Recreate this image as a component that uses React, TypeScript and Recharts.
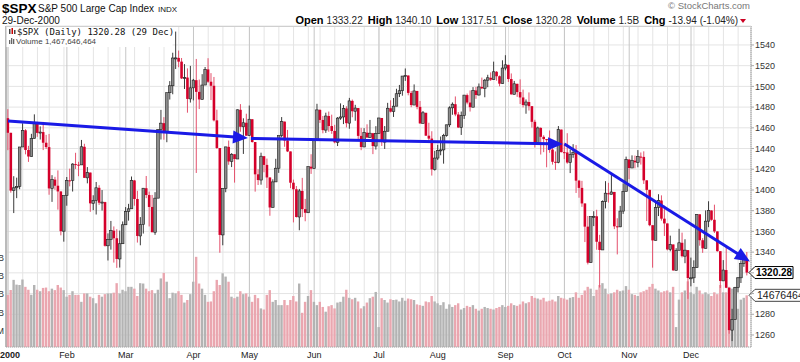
import React from "react";
import {
  ComposedChart,
  Bar,
  Cell,
  XAxis,
  YAxis,
  CartesianGrid,
  ReferenceLine,
} from "recharts";

const FONT = "'Liberation Sans', Arial, sans-serif";
const MONO = "'DejaVu Sans Mono', monospace";

// market holidays of 2000 (weekdays without trading)
const HOLIDAYS = [
  "2000-01-17", "2000-02-21", "2000-04-21", "2000-05-29",
  "2000-07-04", "2000-09-04", "2000-11-23", "2000-12-25",
];
const MONTH_LABELS = ["2000", "Feb", "Mar", "Apr", "May", "Jun", "Jul", "Aug", "Sep", "Oct", "Nov", "Dec"];
const PRICE_TICKS = [1260, 1280, 1300, 1320, 1340, 1360, 1380, 1400, 1420, 1440, 1460, 1480, 1500, 1520, 1540];
// labels hidden behind the last-value tags
const HIDDEN_PRICE_LABELS = [1300, 1320];
const VOLUME_TICKS = [0.5, 1, 1.5, 2, 2.5];

// daily OHLC, Jan..Dec 2000
const opens = [
  1469.3, 1455.2, 1399.4, 1402.1, 1403.5, 1441.5, 1457.6, 1438.6, 1432.3, 1449.7, 1465.2, 1455.1, 1455.9, 1445.6, 1441.4, 1401.5, 1410.0, 1404.1, 1398.6, 1360.2,
  1394.5, 1409.3, 1409.1, 1425.0, 1424.4, 1424.2, 1441.7, 1411.7, 1416.8, 1387.1, 1389.9, 1402.1, 1387.7, 1388.3, 1346.1, 1352.2, 1360.7, 1353.4, 1333.4, 1348.1,
  1366.4, 1379.2, 1381.8, 1409.2, 1391.3, 1355.6, 1366.7, 1401.7, 1395.1, 1383.6, 1359.2, 1392.1, 1458.5, 1464.5, 1456.6, 1493.9, 1500.6, 1527.4, 1527.5, 1523.9, 1507.7, 1508.5, 1487.9,
  1498.6, 1506.0, 1494.7, 1487.4, 1501.3, 1516.4, 1504.5, 1500.6, 1467.2, 1440.5, 1356.6, 1401.4, 1441.6, 1427.5, 1434.5, 1429.9, 1477.4, 1461.0, 1464.9,
  1452.4, 1468.3, 1446.3, 1415.1, 1409.6, 1432.6, 1424.2, 1412.1, 1383.1, 1407.8, 1421.0, 1452.4, 1466.0, 1447.8, 1437.2, 1407.0, 1400.7, 1373.9, 1399.1, 1381.5, 1378.0, 1422.5,
  1420.6, 1448.8, 1477.3, 1467.6, 1457.8, 1471.4, 1461.7, 1457.0, 1446.0, 1469.4, 1470.5, 1478.7, 1464.5, 1486.0, 1476.0, 1479.1, 1452.2, 1441.5, 1455.3, 1450.6, 1454.8, 1442.4,
  1454.6, 1469.5, 1446.2, 1456.7, 1478.9, 1475.6, 1480.9, 1492.9, 1495.8, 1510.0, 1510.5, 1493.7, 1482.0, 1495.6, 1480.2, 1464.3, 1474.5, 1452.4, 1449.6, 1419.9,
  1430.8, 1438.1, 1438.7, 1452.6, 1462.9, 1479.3, 1482.8, 1472.9, 1460.3, 1471.8, 1491.6, 1484.4, 1479.9, 1496.1, 1491.7, 1499.5, 1498.1, 1506.0, 1508.3, 1506.5, 1514.1, 1509.8, 1502.6,
  1517.7, 1520.8, 1507.1, 1492.3, 1502.5, 1494.5, 1489.3, 1482.0, 1484.9, 1480.9, 1465.8, 1444.5, 1459.9, 1451.3, 1449.1, 1448.7, 1439.0, 1427.2, 1426.6, 1458.3,
  1436.5, 1436.2, 1426.5, 1434.3, 1436.3, 1409.0, 1402.0, 1387.0, 1364.6, 1329.8, 1374.2, 1374.6, 1350.0, 1342.1, 1388.8, 1396.9, 1395.8, 1398.1, 1364.9, 1364.4, 1379.6, 1398.7,
  1429.4, 1421.2, 1428.3, 1426.7, 1432.2, 1431.9, 1409.3, 1400.1, 1366.0, 1351.3, 1383.0, 1389.8, 1372.3, 1367.7, 1342.6, 1347.4, 1322.4, 1341.8, 1349.0, 1336.1, 1341.9,
  1315.0, 1315.2, 1325.0, 1376.5, 1351.5, 1343.6, 1369.9, 1380.2, 1371.2, 1360.0, 1340.9, 1312.2, 1322.7, 1305.6, 1264.7, 1274.9, 1306.0, 1315.2, 1328.9, 1333.22,
];
const highs = [
  1478.0, 1455.2, 1413.3, 1411.9, 1441.5, 1464.4, 1458.7, 1442.6, 1454.2, 1473.0, 1465.7, 1461.4, 1465.7, 1453.2, 1454.1, 1414.3, 1412.7, 1418.9, 1398.6, 1394.5,
  1412.5, 1420.6, 1425.8, 1435.9, 1427.2, 1448.3, 1444.6, 1422.1, 1416.8, 1394.9, 1407.7, 1404.6, 1399.9, 1388.6, 1358.1, 1370.1, 1364.8, 1362.1, 1360.8, 1369.6,
  1383.5, 1386.6, 1413.0, 1409.7, 1399.2, 1373.8, 1401.8, 1413.5, 1398.4, 1395.2, 1397.9, 1458.5, 1477.3, 1470.3, 1493.9, 1505.1, 1532.5, 1552.9, 1534.6, 1527.4, 1521.5, 1517.4, 1519.8,
  1507.2, 1526.5, 1506.6, 1511.8, 1518.7, 1527.2, 1512.8, 1509.1, 1477.5, 1440.5, 1401.5, 1441.6, 1447.7, 1435.5, 1434.5, 1477.7, 1482.9, 1469.2, 1473.6,
  1481.5, 1468.3, 1446.3, 1420.0, 1436.0, 1432.6, 1430.3, 1412.1, 1410.3, 1430.1, 1452.4, 1470.4, 1466.0, 1458.0, 1437.2, 1410.0, 1403.8, 1401.0, 1411.7, 1391.4, 1422.5, 1434.5,
  1448.8, 1483.2, 1477.8, 1471.4, 1474.6, 1475.7, 1472.7, 1462.9, 1470.4, 1483.6, 1482.0, 1480.8, 1488.9, 1487.3, 1482.2, 1479.1, 1459.9, 1459.7, 1463.4, 1467.6, 1455.1, 1461.6,
  1469.6, 1469.5, 1461.7, 1484.1, 1486.6, 1488.8, 1497.7, 1501.4, 1509.9, 1517.3, 1510.5, 1495.6, 1501.9, 1495.6, 1485.9, 1476.2, 1474.5, 1464.9, 1456.7, 1437.7,
  1443.5, 1451.6, 1454.2, 1462.9, 1480.8, 1484.5, 1490.3, 1475.2, 1475.7, 1491.6, 1493.1, 1496.1, 1499.3, 1499.5, 1502.8, 1508.5, 1507.2, 1511.2, 1513.5, 1523.9, 1514.8, 1510.5, 1525.2,
  1530.1, 1520.8, 1512.5, 1505.3, 1502.5, 1506.8, 1496.9, 1487.4, 1494.2, 1480.9, 1467.8, 1461.2, 1460.5, 1452.8, 1449.1, 1457.4, 1448.0, 1437.2, 1461.7, 1458.3,
  1445.6, 1454.8, 1439.0, 1444.2, 1443.3, 1409.7, 1408.8, 1387.0, 1374.9, 1374.2, 1379.5, 1380.9, 1356.7, 1389.9, 1408.5, 1406.9, 1415.6, 1398.1, 1372.7, 1384.6, 1406.4, 1432.2,
  1429.6, 1433.4, 1433.2, 1438.5, 1436.2, 1437.3, 1409.3, 1400.1, 1366.0, 1390.1, 1395.9, 1394.8, 1384.9, 1367.7, 1355.9, 1347.4, 1343.8, 1362.5, 1358.8, 1352.4, 1341.9,
  1334.7, 1332.1, 1376.6, 1376.5, 1353.5, 1380.3, 1389.1, 1380.3, 1385.8, 1360.0, 1340.9, 1332.3, 1346.4, 1305.6, 1285.3, 1306.0, 1315.9, 1332.0, 1335.9, 1340.10,
];
const lows = [
  1438.4, 1397.4, 1377.7, 1392.1, 1400.7, 1441.5, 1434.4, 1427.1, 1432.3, 1449.7, 1451.3, 1448.7, 1438.5, 1439.6, 1395.4, 1388.5, 1400.2, 1381.0, 1356.2, 1350.1,
  1384.8, 1403.5, 1398.5, 1420.3, 1413.3, 1424.2, 1411.7, 1406.4, 1378.9, 1380.5, 1376.3, 1385.6, 1380.1, 1345.3, 1331.9, 1342.4, 1329.9, 1324.8, 1325.1, 1348.1,
  1366.4, 1370.4, 1381.8, 1384.8, 1349.2, 1346.6, 1357.9, 1392.1, 1364.8, 1359.2, 1356.7, 1392.1, 1448.7, 1448.5, 1446.1, 1487.3, 1492.4, 1516.8, 1518.5, 1507.1, 1497.5, 1474.6, 1484.4,
  1486.5, 1416.4, 1478.1, 1487.4, 1501.3, 1503.4, 1486.8, 1466.2, 1439.6, 1339.4, 1346.6, 1397.8, 1424.3, 1422.1, 1407.1, 1429.9, 1456.2, 1434.8, 1452.4,
  1452.4, 1445.7, 1398.4, 1404.8, 1405.1, 1417.1, 1401.9, 1375.1, 1383.1, 1407.8, 1416.5, 1450.8, 1441.7, 1436.6, 1401.7, 1368.7, 1373.4, 1361.1, 1373.9, 1369.8, 1378.0, 1415.5,
  1420.6, 1448.8, 1464.7, 1454.7, 1455.1, 1456.2, 1454.2, 1445.0, 1442.4, 1467.7, 1463.6, 1460.4, 1459.1, 1470.2, 1466.8, 1448.0, 1438.4, 1441.5, 1450.6, 1450.6, 1434.6, 1439.0,
  1454.6, 1442.5, 1439.6, 1456.7, 1474.8, 1470.5, 1480.9, 1489.7, 1491.0, 1505.3, 1491.4, 1479.9, 1482.0, 1477.9, 1463.8, 1464.3, 1452.4, 1445.3, 1413.9, 1418.7,
  1428.9, 1433.5, 1425.4, 1451.5, 1460.7, 1472.6, 1471.2, 1459.9, 1453.1, 1468.6, 1482.7, 1475.7, 1479.9, 1488.0, 1491.1, 1497.4, 1489.5, 1499.2, 1505.2, 1506.5, 1505.5, 1500.1, 1502.6,
  1515.5, 1504.3, 1492.1, 1492.3, 1489.9, 1483.0, 1479.7, 1473.6, 1476.7, 1460.2, 1441.0, 1444.5, 1434.2, 1436.5, 1421.9, 1435.9, 1424.5, 1419.4, 1425.8, 1436.3,
  1429.8, 1425.3, 1416.3, 1431.0, 1397.1, 1392.5, 1383.7, 1349.7, 1328.1, 1329.8, 1365.1, 1342.3, 1305.8, 1342.1, 1382.2, 1387.8, 1395.8, 1362.2, 1337.8, 1364.1, 1376.9, 1398.7,
  1410.5, 1421.2, 1420.9, 1421.9, 1424.5, 1405.8, 1370.0, 1365.0, 1325.0, 1351.3, 1374.8, 1370.4, 1355.6, 1341.7, 1340.8, 1321.9, 1322.4, 1341.8, 1334.9, 1329.3, 1294.9,
  1307.0, 1310.2, 1325.0, 1346.2, 1339.3, 1343.6, 1364.1, 1370.3, 1358.5, 1340.5, 1305.4, 1312.2, 1305.2, 1261.2, 1254.1, 1274.9, 1301.1, 1310.2, 1325.8, 1317.51,
];
const closes = [
  1455.2, 1399.4, 1402.1, 1403.5, 1441.5, 1457.6, 1438.6, 1432.3, 1449.7, 1465.2, 1455.1, 1455.9, 1445.6, 1441.4, 1401.5, 1410.0, 1404.1, 1398.6, 1360.2, 1394.5,
  1409.3, 1409.1, 1425.0, 1424.4, 1424.2, 1441.7, 1411.7, 1416.8, 1387.1, 1389.9, 1402.1, 1387.7, 1388.3, 1346.1, 1352.2, 1360.7, 1353.4, 1333.4, 1348.1, 1366.4,
  1379.2, 1381.8, 1409.2, 1391.3, 1355.6, 1366.7, 1401.7, 1395.1, 1383.6, 1359.2, 1392.1, 1458.5, 1464.5, 1456.6, 1493.9, 1500.6, 1527.4, 1527.5, 1523.9, 1507.7, 1508.5, 1487.9, 1498.6,
  1506.0, 1494.7, 1487.4, 1501.3, 1516.4, 1504.5, 1500.6, 1467.2, 1440.5, 1356.6, 1401.4, 1441.6, 1427.5, 1434.5, 1429.9, 1477.4, 1461.0, 1464.9, 1452.4,
  1468.3, 1446.3, 1415.1, 1409.6, 1432.6, 1424.2, 1412.1, 1383.1, 1407.8, 1421.0, 1452.4, 1466.0, 1447.8, 1437.2, 1407.0, 1400.7, 1373.9, 1399.1, 1381.5, 1378.0, 1422.5, 1420.6,
  1448.8, 1477.3, 1467.6, 1457.8, 1471.4, 1461.7, 1457.0, 1446.0, 1469.4, 1470.5, 1478.7, 1464.5, 1486.0, 1476.0, 1479.1, 1452.2, 1441.5, 1455.3, 1450.6, 1454.8, 1442.4, 1454.6,
  1469.5, 1446.2, 1456.7, 1478.9, 1475.6, 1480.9, 1492.9, 1495.8, 1510.0, 1510.5, 1493.7, 1482.0, 1495.6, 1480.2, 1464.3, 1474.5, 1452.4, 1449.6, 1419.9, 1430.8,
  1438.1, 1438.7, 1452.6, 1462.9, 1479.3, 1482.8, 1472.9, 1460.3, 1471.8, 1491.6, 1484.4, 1479.9, 1496.1, 1491.7, 1499.5, 1498.1, 1506.0, 1508.3, 1506.5, 1514.1, 1509.8, 1502.6, 1517.7,
  1520.8, 1507.1, 1492.3, 1502.5, 1494.5, 1489.3, 1482.0, 1484.9, 1480.9, 1465.8, 1444.5, 1459.9, 1451.3, 1449.1, 1448.7, 1439.0, 1427.2, 1426.6, 1458.3, 1436.5,
  1436.2, 1426.5, 1434.3, 1436.3, 1409.0, 1402.0, 1387.0, 1364.6, 1329.8, 1374.2, 1374.6, 1350.0, 1342.1, 1388.8, 1396.9, 1395.8, 1398.1, 1364.9, 1364.4, 1379.6, 1398.7, 1429.4,
  1421.2, 1428.3, 1426.7, 1432.2, 1431.9, 1409.3, 1400.1, 1366.0, 1351.3, 1383.0, 1389.8, 1372.3, 1367.7, 1342.6, 1347.4, 1322.4, 1341.8, 1349.0, 1336.1, 1341.9, 1315.0,
  1315.2, 1325.0, 1376.5, 1351.5, 1343.6, 1369.9, 1380.2, 1371.2, 1360.0, 1340.9, 1312.2, 1322.7, 1305.6, 1264.7, 1274.9, 1306.0, 1315.2, 1328.9, 1334.2, 1320.28,
];
// daily volume, billions of shares
const volumes = [
  1.48, 1.61, 1.89, 1.76, 1.75, 1.90, 1.70, 1.62, 1.48, 1.75, 1.62, 1.58, 1.67, 1.68, 1.58, 1.65, 1.61, 1.75, 1.68, 1.61,
  1.43, 1.48, 1.58, 1.48, 1.48, 1.29, 1.52, 1.52, 1.43, 1.39, 1.25, 1.48, 1.43, 1.50, 1.52, 1.52, 1.54, 1.80, 1.52, 1.62,
  1.58, 1.70, 1.70, 1.65, 1.45, 1.80, 1.79, 1.65, 1.58, 1.61, 1.52, 1.62, 1.93, 2.08, 1.84, 1.39, 1.54, 1.52, 1.58, 1.48, 1.27, 1.34, 1.50,
  1.84, 2.52, 1.79, 1.65, 1.48, 1.29, 1.30, 1.58, 1.89, 1.75, 2.07, 1.98, 1.84, 1.43, 1.39, 1.43, 1.58, 1.50, 1.52,
  1.43, 1.29, 1.48, 1.39, 1.11, 1.08, 1.48, 1.61, 1.29, 1.34, 1.20, 1.20, 1.34, 1.20, 1.34, 1.45, 1.30, 1.79, 0.99, 1.29, 1.45, 1.61,
  1.29, 1.20, 1.29, 1.15, 1.02, 1.17, 1.20, 1.11, 1.27, 1.29, 1.43, 1.62, 1.40, 1.36, 1.40, 1.30, 1.11, 1.17, 1.27, 1.39, 1.43, 1.56,
  0.60, 1.39, 1.34, 1.27, 1.36, 1.34, 1.35, 1.30, 1.40, 1.32, 1.38, 1.36, 1.34, 1.22, 1.20, 1.18, 1.30, 1.28, 1.45, 1.30,
  1.25, 1.20, 1.28, 1.10, 1.22, 1.15, 1.20, 1.25, 1.08, 1.12, 1.18, 1.15, 1.20, 1.10, 1.05, 1.10, 1.15, 1.12, 1.10, 1.08, 1.12, 1.15, 1.20,
  1.15, 1.18, 1.25, 1.20, 1.18, 1.22, 1.30, 1.25, 1.28, 1.45, 1.40, 1.38, 1.35, 1.40, 1.30, 1.32, 1.35, 1.30, 1.45, 1.40,
  1.38, 1.35, 1.40, 1.42, 1.55, 1.40, 1.48, 1.60, 1.70, 1.65, 1.45, 1.62, 1.75, 1.80, 1.65, 1.50, 1.52, 1.55, 1.62, 1.58, 1.60, 1.72,
  1.62, 1.50, 1.48, 1.45, 1.55, 1.58, 1.62, 1.70, 1.78, 1.65, 1.60, 1.55, 1.58, 1.60, 1.55, 1.70, 0.60, 1.35, 1.55, 1.60, 1.85,
  1.55, 1.50, 1.70, 1.60, 1.50, 1.55, 1.50, 1.45, 1.55, 1.50, 1.75, 1.55, 1.55, 1.70, 1.65, 1.70, 1.10, 1.35, 1.40, 1.467646464,
];

// hand-drawn trend arrows: [day index, price] pairs
const trendArrows = [
  [[0, 1466.6], [81.5, 1450.2]],
  [[82.5, 1449.8], [188.5, 1444.4]],
  [[189, 1444.4], [252, 1331]],
];

const LAST_CLOSE = 1320.28;
const LAST_VOLUME_SHARES = 1467646464;

const tradingDays: Date[] = [];
for (let d = new Date(Date.UTC(2000, 0, 1)); d.getUTCFullYear() === 2000; d.setUTCDate(d.getUTCDate() + 1)) {
  const wd = d.getUTCDay();
  if (wd === 0 || wd === 6) continue;
  if (HOLIDAYS.includes(d.toISOString().slice(0, 10))) continue;
  tradingDays.push(new Date(d));
}
const monthStarts = tradingDays
  .map((d, i) => (i === 0 || d.getUTCMonth() !== tradingDays[i - 1].getUTCMonth() ? i : -1))
  .filter((i) => i >= 0);
const weekStarts = tradingDays
  .map((d, i) => (i === 0 || d.getUTCDay() < tradingDays[i - 1].getUTCDay() ? i : -1))
  .filter((i) => i >= 0);

const data = closes.map((c, i) => ({
  i,
  o: opens[i],
  h: highs[i],
  l: lows[i],
  c,
  v: volumes[i],
}));

const Candle = (props: any) => {
  const { x, y, width, height, payload } = props;
  const { o, h, l, c } = payload;
  const cx = x + width / 2;
  const top0 = Math.min(y, y + height);
  const hgt = Math.abs(height);
  const span = h - l || 1;
  const py = (v: number) => top0 + ((h - v) / span) * hgt;
  const up = c >= o;
  const bt = py(Math.max(o, c));
  const bb = py(Math.min(o, c));
  return (
    <g>
      <line x1={cx} x2={cx} y1={top0} y2={top0 + hgt} stroke={up ? "#3a3a3a" : "#e4506c"} strokeWidth={1} />
      <rect
        x={cx - 1.3}
        y={bt}
        width={2.6}
        height={Math.max(bb - bt, 1)}
        fill={up ? "#8c8c8c" : "#d4002a"}
        stroke={up ? "#1a1a1a" : "none"}
        strokeWidth={0.6}
      />
    </g>
  );
};

const Arrow = (props: any) => {
  const { x1, y1, x2, y2 } = props;
  const dx = x2 - x1;
  const dy = y2 - y1;
  const len = Math.sqrt(dx * dx + dy * dy) || 1;
  const ux = dx / len;
  const uy = dy / len;
  const L = 15;
  const W = 6.5;
  const bx = x2 - ux * L;
  const by = y2 - uy * L;
  return (
    <g>
      <line x1={x1} y1={y1} x2={bx + ux * 2} y2={by + uy * 2} stroke="#1a1ae6" strokeWidth={3} />
      <polygon
        points={`${x2},${y2} ${bx - uy * W},${by + ux * W} ${bx + uy * W},${by - ux * W}`}
        fill="#1a1ae6"
      />
    </g>
  );
};

const MonthTick = (props: any) => {
  const { x, y, payload } = props;
  const k = monthStarts.indexOf(payload.value);
  return (
    <text
      x={k === 0 ? 0 : x}
      y={y}
      dy="0.71em"
      textAnchor={k === 0 ? "start" : "middle"}
      fontFamily={FONT}
      fontSize={9}
      fontWeight={k === 0 ? "bold" : "normal"}
      fill="#222"
    >
      {MONTH_LABELS[k]}
    </text>
  );
};

const PriceTag = (props: any) => {
  const { viewBox } = props;
  const x0 = viewBox.x + viewBox.width - 2;
  const y = viewBox.y;
  return (
    <g>
      <polygon
        points={`${x0},${y} ${x0 + 6},${y - 6} ${x0 + 44},${y - 6} ${x0 + 44},${y + 6} ${x0 + 6},${y + 6}`}
        fill="#fff"
        stroke="#000"
        strokeWidth={1}
      />
      <text x={x0 + 7} y={y + 3.5} fontFamily={FONT} fontSize={10} fontWeight="bold" fill="#000">
        {LAST_CLOSE.toFixed(2)}
      </text>
    </g>
  );
};

const VolumeTag = (props: any) => {
  const { viewBox } = props;
  const x0 = viewBox.x + viewBox.width - 2;
  const y = viewBox.y;
  return (
    <g>
      <polygon
        points={`${x0},${y} ${x0 + 6},${y - 6} ${x0 + 80},${y - 6} ${x0 + 80},${y + 6} ${x0 + 6},${y + 6}`}
        fill="#fff"
        stroke="#444"
        strokeWidth={1}
      />
      <text x={x0 + 8} y={y + 3.7} fontFamily={FONT} fontSize={10.5} fill="#222">
        {LAST_VOLUME_SHARES}
      </text>
    </g>
  );
};

export default function App() {
  return (
    <div style={{ position: "absolute", left: 0, top: 0, width: 800, height: 362, background: "#fff", overflow: "hidden" }}>
      <ComposedChart
        width={800}
        height={362}
        data={data}
        margin={{ top: 26, right: 0, bottom: 0, left: 0 }}
      >
        <XAxis
          xAxisId="p"
          dataKey="i"
          type="number"
          domain={[-0.68, 252.37]}
          allowDataOverflow
          ticks={monthStarts}
          tick={<MonthTick />}
          tickSize={0}
          tickMargin={5}
          height={15}
          axisLine={{ stroke: "#aaa", strokeDasharray: "1 1" }}
          interval={0}
        />
        <XAxis
          xAxisId="v"
          dataKey="i"
          type="number"
          domain={[-0.68, 252.37]}
          allowDataOverflow
          ticks={weekStarts}
          interval={0}
          hide
        />
        <YAxis
          yAxisId="price"
          orientation="right"
          type="number"
          domain={[1248.4, 1558.3]}
          allowDataOverflow
          ticks={PRICE_TICKS}
          interval={0}
          width={49}
          tickSize={3}
          tickMargin={1}
          tickLine={{ stroke: "#aaa" }}
          axisLine={{ stroke: "#aaa", strokeDasharray: "1 1" }}
          tickFormatter={(v: number) => (HIDDEN_PRICE_LABELS.includes(v) ? "" : String(v))}
          tick={{ fontFamily: FONT, fontSize: 9, fill: "#333", textAnchor: "start" }}
        />
        <YAxis
          yAxisId="vol"
          orientation="left"
          type="number"
          domain={[0.055, 8.83]}
          allowDataOverflow
          ticks={VOLUME_TICKS}
          interval={0}
          width={6}
          tickSize={0}
          tickMargin={2}
          axisLine={{ stroke: "#999" }}
          tickFormatter={(v: number) => (v < 1 ? `${v * 1000}M` : `${v.toFixed(1)}B`)}
          tick={{ fontFamily: FONT, fontSize: 9, fill: "#333" }}
        />
        <CartesianGrid xAxisId="v" yAxisId="price" stroke="#e4e4e4" />
        <CartesianGrid xAxisId="p" yAxisId="price" horizontal={false} stroke="#c6c6c6" />
        <Bar
          xAxisId="v"
          yAxisId="vol"
          dataKey="v"
          barSize={2.4}
          isAnimationActive={false}
        >
          {data.map((d, i) => (
            <Cell key={i} fill={d.c >= d.o ? "#b3b3b3" : "#eaa6af"} />
          ))}
        </Bar>
        <Bar
          xAxisId="p"
          yAxisId="price"
          dataKey={(d: any) => [d.l, d.h]}
          barSize={3}
          shape={<Candle />}
          isAnimationActive={false}
        />
        {trendArrows.map((seg, k) => (
          <ReferenceLine
            key={k}
            xAxisId="p"
            yAxisId="price"
            ifOverflow="visible"
            segment={[
              { x: seg[0][0], y: seg[0][1] },
              { x: seg[1][0], y: seg[1][1] },
            ]}
            shape={Arrow}
          />
        ))}
        <ReferenceLine xAxisId="p" yAxisId="price" y={LAST_CLOSE} stroke="none" label={PriceTag} />
        <ReferenceLine
          xAxisId="p"
          yAxisId="vol"
          y={LAST_VOLUME_SHARES / 1e9}
          stroke="none"
          label={VolumeTag}
        />
      </ComposedChart>

      <svg
        width={800}
        height={362}
        style={{ position: "absolute", left: 0, top: 0, pointerEvents: "none" }}
      >
        <line x1={6} x2={751} y1={26.5} y2={26.5} stroke="#cfcfcf" />
        <text x={2} y={13} fontFamily={FONT} fontSize={13.5} fontWeight="bold" fill="#000">$SPX</text>
        <text x={38} y={12} fontFamily={FONT} fontSize={10} fill="#111">S&amp;P 500 Large Cap Index</text>
        <text x={158} y={12} fontFamily={FONT} fontSize={8} fill="#111">INDX</text>
        <text x={2} y={24} fontFamily={FONT} fontSize={10} fill="#111">29-Dec-2000</text>
        <text x={750} y={9} textAnchor="end" fontFamily={FONT} fontSize={9.5} fill="#777">© StockCharts.com</text>
        <text x={738} y={24} textAnchor="end" fontFamily={FONT} fontSize={10} fill="#222">
          <tspan fontWeight="bold" fontSize={11} fill="#000">Open</tspan>
          <tspan dx={3}>1333.22</tspan>
          <tspan dx={5} fontWeight="bold" fontSize={11} fill="#000">High</tspan>
          <tspan dx={3}>1340.10</tspan>
          <tspan dx={5} fontWeight="bold" fontSize={11} fill="#000">Low</tspan>
          <tspan dx={3}>1317.51</tspan>
          <tspan dx={5} fontWeight="bold" fontSize={11} fill="#000">Close</tspan>
          <tspan dx={3}>1320.28</tspan>
          <tspan dx={5} fontWeight="bold" fontSize={11} fill="#000">Volume</tspan>
          <tspan dx={3}>1.5B</tspan>
          <tspan dx={5} fontWeight="bold" fontSize={11} fill="#000">Chg</tspan>
          <tspan dx={3}>-13.94 (-1.04%)</tspan>
        </text>
        <polygon points="740,19 746,19 743,23" fill="#cc0022" />
        <rect x={6.5} y={27} width={166} height={20} fill="#fff" />
        <rect x={9} y={29} width={1.5} height={5} fill="#444" />
        <rect x={11.5} y={28} width={1.5} height={6} fill="#c00" />
        <rect x={14} y={30} width={1.5} height={4} fill="#444" />
        <text x={17} y={35} fontFamily={MONO} fontSize={9} fill="#111">$SPX (Daily) 1320.28 (29 Dec)</text>
        <rect x={9} y={40} width={1.3} height={4} fill="#666" />
        <rect x={11} y={38} width={1.3} height={6} fill="#666" />
        <rect x={13} y={39} width={1.3} height={5} fill="#666" />
        <text x={16} y={44} fontFamily={FONT} fontSize={8} fill="#444">Volume 1,467,646,464</text>
      </svg>
    </div>
  );
}
